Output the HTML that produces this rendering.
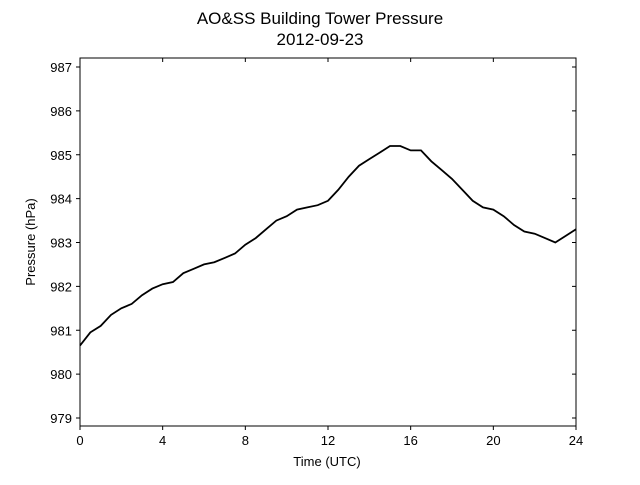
<!DOCTYPE html>
<html><head><meta charset="utf-8"><style>
body{margin:0;background:#fff;}
svg{font-family:"Liberation Sans","DejaVu Sans",sans-serif;}
</style></head><body>
<svg id="chart" width="640" height="480" viewBox="0 0 640 480">
<text x="320" y="24" text-anchor="middle" font-size="17">AO&amp;SS Building Tower Pressure</text>
<text x="320" y="45" text-anchor="middle" font-size="17">2012-09-23</text>
<g id="axes"></g>
<path id="line" fill="none" stroke="#000" stroke-width="1.8"/>
<rect x="80" y="58" width="496" height="368" fill="none" stroke="#000" stroke-width="1"/>
<text x="327" y="466" text-anchor="middle" font-size="13">Time (UTC)</text>
<text transform="translate(35,242) rotate(-90)" text-anchor="middle" font-size="13">Pressure (hPa)</text>
</svg>
<script>
const hours=[0,0.5,1,1.5,2,2.5,3,3.5,4,4.5,5,5.5,6,6.5,7,7.5,8,8.5,9,9.5,10,10.5,11,11.5,12,12.5,13,13.5,14,14.5,15,15.5,16,16.5,17,17.5,18,18.5,19,19.5,20,20.5,21,21.5,22,22.5,23,23.5,24];
const pressure=[980.65,980.95,981.1,981.35,981.5,981.6,981.8,981.95,982.05,982.1,982.3,982.4,982.5,982.55,982.65,982.75,982.95,983.1,983.3,983.5,983.6,983.75,983.8,983.85,983.95,984.2,984.5,984.75,984.9,985.05,985.2,985.2,985.1,985.1,984.85,984.65,984.45,984.2,983.95,983.8,983.75,983.6,983.4,983.25,983.2,983.1,983.0,983.15,983.3];
const xTicks=[0,4,8,12,16,20,24];
const yTicks=[979,980,981,982,983,984,985,986,987];
const xs=h=>80+h/24*496;
const ys=v=>418-(v-979)*43.875;
const ns="http://www.w3.org/2000/svg";
const ax=document.getElementById('axes');
function mk(t,a){const e=document.createElementNS(ns,t);for(const k in a)e.setAttribute(k,a[k]);ax.appendChild(e);return e;}
xTicks.forEach(t=>{
 const b=mk('line',{x1:xs(t),x2:xs(t),y1:426,y2:430,stroke:'#000'});
 
 
 const tp=mk('line',{x1:xs(t),x2:xs(t),y1:58,y2:62,stroke:'#000'});
 
 
 const l=mk('text',{x:xs(t),y:445,'text-anchor':'middle','font-size':13});
 l.textContent=t;
 
 
});
yTicks.forEach(t=>{
 const b=mk('line',{x1:76,x2:80,y1:ys(t),y2:ys(t),stroke:'#000'});
 
 
 const r=mk('line',{x1:572,x2:576,y1:ys(t),y2:ys(t),stroke:'#000'});
 
 
 const l=mk('text',{x:72,y:ys(t)+5,'text-anchor':'end','font-size':13});
 l.textContent=t;
 
 
});
document.getElementById('line').setAttribute('d',hours.map((h,i)=>(i?'L':'M')+xs(h).toFixed(1)+','+ys(pressure[i]).toFixed(1)).join(''));
</script>
</body></html>
